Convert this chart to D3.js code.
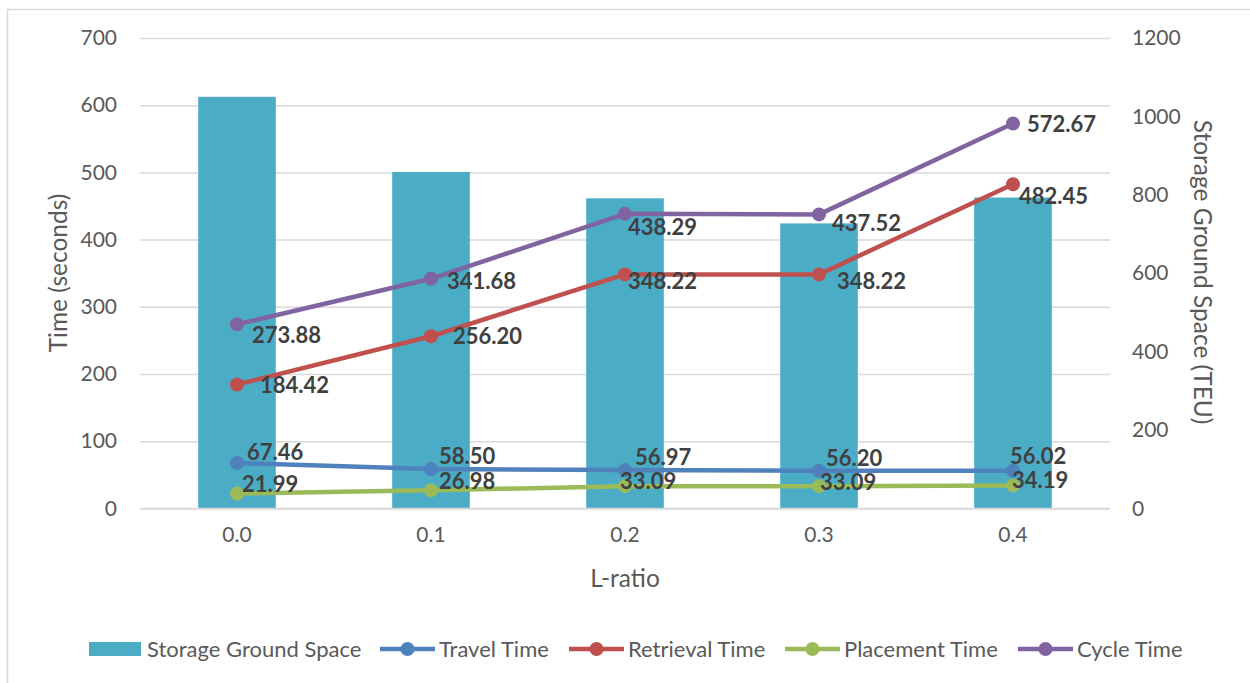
<!DOCTYPE html>
<html>
<head>
<meta charset="utf-8">
<script src="https://cdn.jsdelivr.net/npm/d3@7"></script>
<style>
  html, body { margin: 0; padding: 0; background: #fff; }
  svg { display: block; font-family: Lato, "Open Sans", sans-serif; }
</style>
</head>
<body>
<svg id="chart" width="1250" height="683"></svg>
<script>
// L-ratio categories
const categories = ["0.0", "0.1", "0.2", "0.3", "0.4"];

// Storage ground space (TEU), right axis
const groundSpace = [1050, 858, 791, 727, 793];

// Time series (seconds), left axis
const travelTime = [67.46, 58.50, 56.97, 56.20, 56.02];
const retrievalTime = [184.42, 256.20, 348.22, 348.22, 482.45];
const placementTime = [21.99, 26.98, 33.09, 33.09, 34.19];
const cycleTime = [273.88, 341.68, 438.29, 437.52, 572.67];

// Axis ticks
const leftTicks = [0, 100, 200, 300, 400, 500, 600, 700];
const rightTicks = [0, 200, 400, 600, 800, 1000, 1200];

// Data-label nudges (dx, dy) relative to each marker
const labelShift = {
  travel:    [[10, -11], [8, -13], [10, -13], [7, -13], [-3, -15]],
  retrieval: [[23, 1], [22, 0], [3, 7], [18, 7], [6, 12]],
  placement: [[5, -10], [8, -9], [-5, -5], [1, -4], [-1, -5]],
  cycle:     [[15, 11], [16, 2], [3, 13], [13, 9], [14, 1]]
};

const series = [
  { key: "travel", name: "Travel Time", values: travelTime, color: "#4F81BD" },
  { key: "retrieval", name: "Retrieval Time", values: retrievalTime, color: "#C0504D" },
  { key: "placement", name: "Placement Time", values: placementTime, color: "#9BBB59" },
  { key: "cycle", name: "Cycle Time", values: cycleTime, color: "#8064A2" }
];

const barColor = "#4BACC6";
const gridColor = "#D9D9D9";
const textColor = "#595959";
const labelColor = "#404040";

const svg = d3.select("#chart");

// Chart frame
svg.append("path")
  .attr("d", "M7.5,683 V9.5 H1250")
  .attr("fill", "none")
  .attr("stroke", gridColor)
  .attr("stroke-width", 1.5);

const plot = { left: 140, right: 1110, top: 38, bottom: 508.4 };

const x = d3.scaleBand()
  .domain(categories)
  .range([plot.left, plot.right])
  .paddingInner(0.6)
  .paddingOuter(0.3);

const yLeft = d3.scaleLinear().domain([0, 700]).range([plot.bottom, plot.top]);
const yRight = d3.scaleLinear().domain([0, 1200]).range([plot.bottom, plot.top]);

const cx = c => x(c) + x.bandwidth() / 2;

// Gridlines + left axis labels
const leftAxis = d3.axisLeft(yLeft)
  .tickValues(leftTicks)
  .tickSize(-(plot.right - plot.left))
  .tickPadding(23)
  .tickFormat(d3.format("d"));

const gL = svg.append("g")
  .attr("transform", `translate(${plot.left},0)`)
  .call(leftAxis);
gL.select(".domain").remove();
gL.selectAll(".tick line").attr("stroke", gridColor).attr("stroke-width", 1.5);
gL.selectAll(".tick text")
  .attr("fill", textColor)
  .attr("font-size", 21)
  .attr("font-family", "Lato, sans-serif");

// Right axis labels
const rightAxis = d3.axisRight(yRight)
  .tickValues(rightTicks)
  .tickSize(0)
  .tickPadding(22)
  .tickFormat(d3.format("d"));
const gR = svg.append("g")
  .attr("transform", `translate(${plot.right},0)`)
  .call(rightAxis);
gR.select(".domain").remove();
gR.selectAll(".tick text")
  .attr("fill", textColor)
  .attr("font-size", 21)
  .attr("font-family", "Lato, sans-serif");

// Bars
svg.append("g")
  .selectAll("rect")
  .data(categories)
  .join("rect")
  .attr("x", d => x(d))
  .attr("width", x.bandwidth())
  .attr("y", (d, i) => yRight(groundSpace[i]))
  .attr("height", (d, i) => plot.bottom - yRight(groundSpace[i]))
  .attr("fill", barColor);

// Bottom axis line
svg.append("line")
  .attr("x1", plot.left).attr("x2", plot.right)
  .attr("y1", plot.bottom).attr("y2", plot.bottom)
  .attr("stroke", gridColor).attr("stroke-width", 1.5);

// Category axis labels
const xAxis = d3.axisBottom(x).tickSize(0).tickPadding(19);
const gX = svg.append("g")
  .attr("transform", `translate(0,${plot.bottom})`)
  .call(xAxis);
gX.select(".domain").remove();
gX.selectAll(".tick text")
  .attr("fill", textColor)
  .attr("font-size", 21)
  .attr("font-family", "Lato, sans-serif");

// Lines, markers, labels
const line = d3.line().x((d, i) => cx(categories[i])).y(d => yLeft(d));

series.forEach(s => {
  const g = svg.append("g");
  g.append("path")
    .datum(s.values)
    .attr("d", line)
    .attr("fill", "none")
    .attr("stroke", s.color)
    .attr("stroke-width", 4.5)
    .attr("stroke-linejoin", "round")
    .attr("stroke-linecap", "round");
  g.selectAll("circle")
    .data(s.values)
    .join("circle")
    .attr("cx", (d, i) => cx(categories[i]))
    .attr("cy", d => yLeft(d))
    .attr("r", 7)
    .attr("fill", s.color);
});

series.forEach(s => {
  svg.append("g")
    .selectAll("text")
    .data(s.values)
    .join("text")
    .attr("x", (d, i) => cx(categories[i]) + labelShift[s.key][i][0])
    .attr("y", (d, i) => yLeft(d) + labelShift[s.key][i][1])
    .attr("dy", "0.36em")
    .attr("font-size", 22)
    .attr("font-weight", "bold")
    .attr("fill", labelColor)
    .text(d => d.toFixed(2));
});

// Axis titles
svg.append("text")
  .attr("transform", "translate(58,273) rotate(-90)")
  .attr("text-anchor", "middle")
  .attr("dy", "0.36em")
  .attr("font-size", 24.5)
  .attr("fill", textColor)
  .text("Time (seconds)");

svg.append("text")
  .attr("transform", "translate(1203,272) rotate(90)")
  .attr("text-anchor", "middle")
  .attr("dy", "0.36em")
  .attr("font-size", 24.5)
  .attr("fill", textColor)
  .text("Storage Ground Space (TEU)");

svg.append("text")
  .attr("x", cx("0.2"))
  .attr("y", 578)
  .attr("dy", "0.36em")
  .attr("text-anchor", "middle")
  .attr("font-size", 24.5)
  .attr("fill", textColor)
  .text("L-ratio");

// Legend
const legendY = 649;
const legend = svg.append("g");
legend.append("rect")
  .attr("x", 89).attr("y", legendY - 7)
  .attr("width", 52).attr("height", 14)
  .attr("fill", barColor);
legend.append("text")
  .attr("x", 147).attr("y", legendY).attr("dy", "0.36em")
  .attr("font-size", 22).attr("fill", textColor)
  .text("Storage Ground Space");

const legendX = [380, 569, 785, 1018];
series.forEach((s, i) => {
  const lx = legendX[i];
  legend.append("line")
    .attr("x1", lx).attr("x2", lx + 55)
    .attr("y1", legendY).attr("y2", legendY)
    .attr("stroke", s.color).attr("stroke-width", 4.5);
  legend.append("circle")
    .attr("cx", lx + 27.5).attr("cy", legendY).attr("r", 7)
    .attr("fill", s.color);
  legend.append("text")
    .attr("x", lx + 59).attr("y", legendY).attr("dy", "0.36em")
    .attr("font-size", 22).attr("fill", textColor)
    .text(s.name);
});
</script>
</body>
</html>
